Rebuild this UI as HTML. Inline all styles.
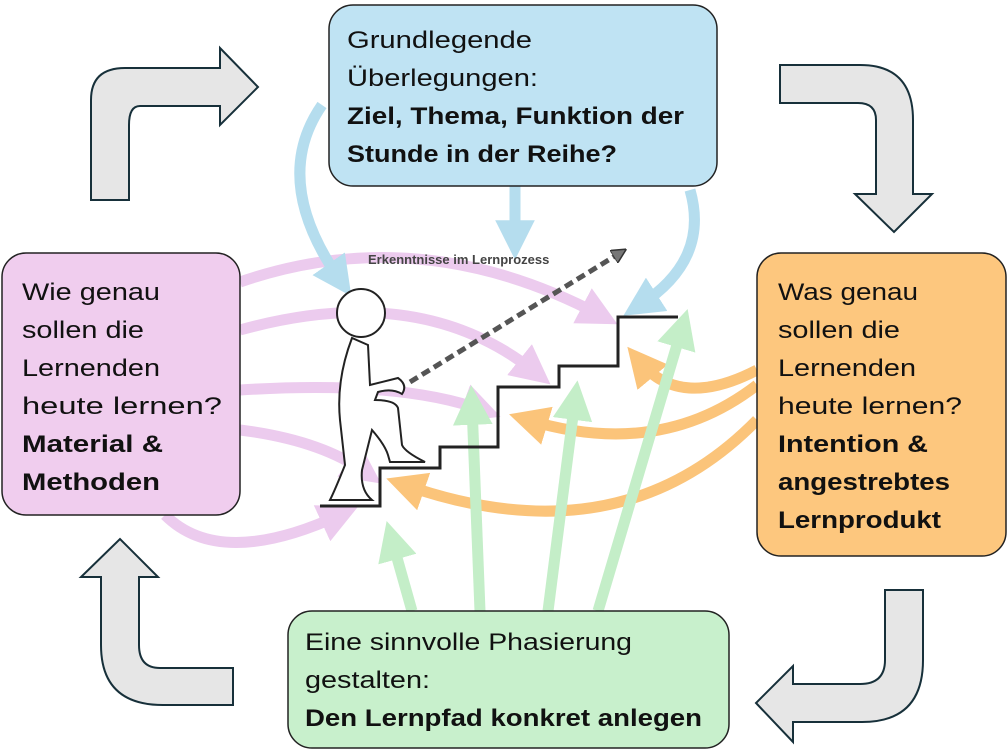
<!DOCTYPE html>
<html><head><meta charset="utf-8"><style>
html,body{margin:0;padding:0;background:#fff;width:1008px;height:756px;overflow:hidden}
svg{display:block}
text{font-family:"Liberation Sans",sans-serif;font-size:24px;fill:#111}
.b{font-weight:bold}
</style></head><body>
<svg width="1008" height="756" viewBox="0 0 1008 756" xmlns="http://www.w3.org/2000/svg">
<defs>
<marker id="mp" viewBox="0 0 10 10" refX="5" refY="5" markerWidth="3.6" markerHeight="3.6" orient="auto" markerUnits="strokeWidth"><path d="M0,0L10,5L0,10z" fill="#eccbee"/></marker>
<marker id="mb" viewBox="0 0 10 10" refX="5" refY="5" markerWidth="3.6" markerHeight="3.6" orient="auto" markerUnits="strokeWidth"><path d="M0,0L10,5L0,10z" fill="#b5ddee"/></marker>
<marker id="mo" viewBox="0 0 10 10" refX="5" refY="5" markerWidth="3.6" markerHeight="3.6" orient="auto" markerUnits="strokeWidth"><path d="M0,0L10,5L0,10z" fill="#fbc47a"/></marker>
<marker id="mg" viewBox="0 0 10 10" refX="5" refY="5" markerWidth="3.6" markerHeight="3.6" orient="auto" markerUnits="strokeWidth"><path d="M0,0L10,5L0,10z" fill="#c4eec8"/></marker>
<marker id="md" viewBox="0 0 10 10" refX="5" refY="5" markerWidth="3" markerHeight="3" orient="auto" markerUnits="strokeWidth"><path d="M0,0L10,5L0,10z" fill="#777" stroke="#333" stroke-width="1"/></marker>
</defs>

<g fill="#e6e6e6" stroke="#17303a" stroke-width="2" stroke-linejoin="miter">
<path d="M91,200 L91,100 Q91,68 125,68 L220,68 L220,48 L258,87 L220,125 L220,106 L140,106 Q129,106 129,125 L129,200 Z"/>
<path d="M780,65 L860,65 Q913,65 913,120 L913,194 L932,194 L894,232 L855,194 L876,194 L876,120 Q876,103 858,103 L780,103 Z"/>
<path d="M923,590 L923,660 Q923,722 862,722 L793,722 L793,742 L756,703 L793,666 L793,684 L860,684 Q885,684 885,660 L885,590 Z"/>
<path d="M233,705 L163,705 Q101,705 101,645 L101,577 L81,577 L120,539 L158,577 L139,577 L139,645 Q139,668 160,668 L233,668 Z"/>
</g>

<g fill="none" stroke-width="11" stroke-linecap="butt">
<path d="M240,282 Q420,220 600,315" stroke="#eccbee" marker-end="url(#mp)"/>
<path d="M240,330 Q420,280 535,372" stroke="#eccbee" marker-end="url(#mp)"/>
<path d="M240,390 Q400,380 482,410" stroke="#eccbee" marker-end="url(#mp)"/>
<path d="M240,430 Q320,440 365,472" stroke="#eccbee" marker-end="url(#mp)"/>
<path d="M165,515 Q220,570 340,515" stroke="#eccbee" marker-end="url(#mp)"/>
<path d="M322,105 Q270,180 340,280" stroke="#b5ddee" marker-end="url(#mb)"/>
<path d="M515,186 L515,240" stroke="#b5ddee" marker-end="url(#mb)"/>
<path d="M690,190 Q710,260 640,305" stroke="#b5ddee" marker-end="url(#mb)"/>
<path d="M757,370 Q680,410 640,362" stroke="#fbc47a" marker-end="url(#mo)"/>
<path d="M757,385 Q660,460 528,420" stroke="#fbc47a" marker-end="url(#mo)"/>
<path d="M757,420 Q620,560 405,485" stroke="#fbc47a" marker-end="url(#mo)"/>
<path d="M412,611 L392,540" stroke="#c4eec8" marker-end="url(#mg)"/>
<path d="M480,611 L472,405" stroke="#c4eec8" marker-end="url(#mg)"/>
<path d="M548,611 L575,400" stroke="#c4eec8" marker-end="url(#mg)"/>
<path d="M598,611 L682,328" stroke="#c4eec8" marker-end="url(#mg)"/>
</g>

<path d="M320,506 L380,506 L380,468 L440,468 L440,447 L498,447 L498,387 L559,387 L559,366 L618,366 L618,317 L678,317" fill="none" stroke="#222" stroke-width="3"/>
<g fill="#fff" stroke="#222" stroke-width="2">
<path d="M352,338 Q336,380 340,420 L345,465 Q335,490 330,500 L372,500 Q360,490 362,470 L372,430 Q385,445 388,455 L390,462 L425,462 Q405,452 402,445 L398,408 Q395,400 375,400 L378,392 Q392,388 402,394 Q408,385 398,378 Q382,382 370,385 L368,345 Z"/>
<circle cx="361" cy="313" r="24"/>
</g>
<path d="M410,382 L620,253" fill="none" stroke="#555" stroke-width="5" stroke-dasharray="9,5" marker-end="url(#md)"/>
<text x="368" y="264" style="font-size:13px;fill:#444;font-weight:bold">Erkenntnisse im Lernprozess</text>

<rect x="329" y="5" width="388" height="181" rx="24" fill="#bfe3f3" stroke="#222" stroke-width="1.5"/>
<text x="347" y="48" textLength="185" lengthAdjust="spacingAndGlyphs">Grundlegende</text>
<text x="347" y="86" textLength="191" lengthAdjust="spacingAndGlyphs">Überlegungen:</text>
<text x="347" y="124" class="b" textLength="337" lengthAdjust="spacingAndGlyphs">Ziel, Thema, Funktion der</text>
<text x="347" y="162" class="b" textLength="270" lengthAdjust="spacingAndGlyphs">Stunde in der Reihe?</text>

<rect x="2" y="253" width="238" height="262" rx="24" fill="#f0cdee" stroke="#222" stroke-width="1.5"/>
<text x="22" y="300" textLength="138" lengthAdjust="spacingAndGlyphs">Wie genau</text>
<text x="22" y="338" textLength="122" lengthAdjust="spacingAndGlyphs">sollen die</text>
<text x="22" y="376" textLength="138" lengthAdjust="spacingAndGlyphs">Lernenden</text>
<text x="22" y="414" textLength="200" lengthAdjust="spacingAndGlyphs">heute lernen?</text>
<text x="22" y="452" class="b" textLength="141" lengthAdjust="spacingAndGlyphs">Material &amp;</text>
<text x="22" y="490" class="b" textLength="138" lengthAdjust="spacingAndGlyphs">Methoden</text>

<rect x="757" y="253" width="249" height="303" rx="24" fill="#fdc77e" stroke="#222" stroke-width="1.5"/>
<text x="778" y="300" textLength="140" lengthAdjust="spacingAndGlyphs">Was genau</text>
<text x="778" y="338" textLength="122" lengthAdjust="spacingAndGlyphs">sollen die</text>
<text x="778" y="376" textLength="138" lengthAdjust="spacingAndGlyphs">Lernenden</text>
<text x="778" y="414" textLength="184" lengthAdjust="spacingAndGlyphs">heute lernen?</text>
<text x="778" y="452" class="b" textLength="150" lengthAdjust="spacingAndGlyphs">Intention &amp;</text>
<text x="778" y="490" class="b" textLength="172" lengthAdjust="spacingAndGlyphs">angestrebtes</text>
<text x="778" y="528" class="b" textLength="163" lengthAdjust="spacingAndGlyphs">Lernprodukt</text>

<rect x="288" y="611" width="441" height="137" rx="24" fill="#c8f0cc" stroke="#222" stroke-width="1.5"/>
<text x="305" y="650" textLength="327" lengthAdjust="spacingAndGlyphs">Eine sinnvolle Phasierung</text>
<text x="305" y="688" textLength="125" lengthAdjust="spacingAndGlyphs">gestalten:</text>
<text x="305" y="726" class="b" textLength="397" lengthAdjust="spacingAndGlyphs">Den Lernpfad konkret anlegen</text>
</svg>
</body></html>
